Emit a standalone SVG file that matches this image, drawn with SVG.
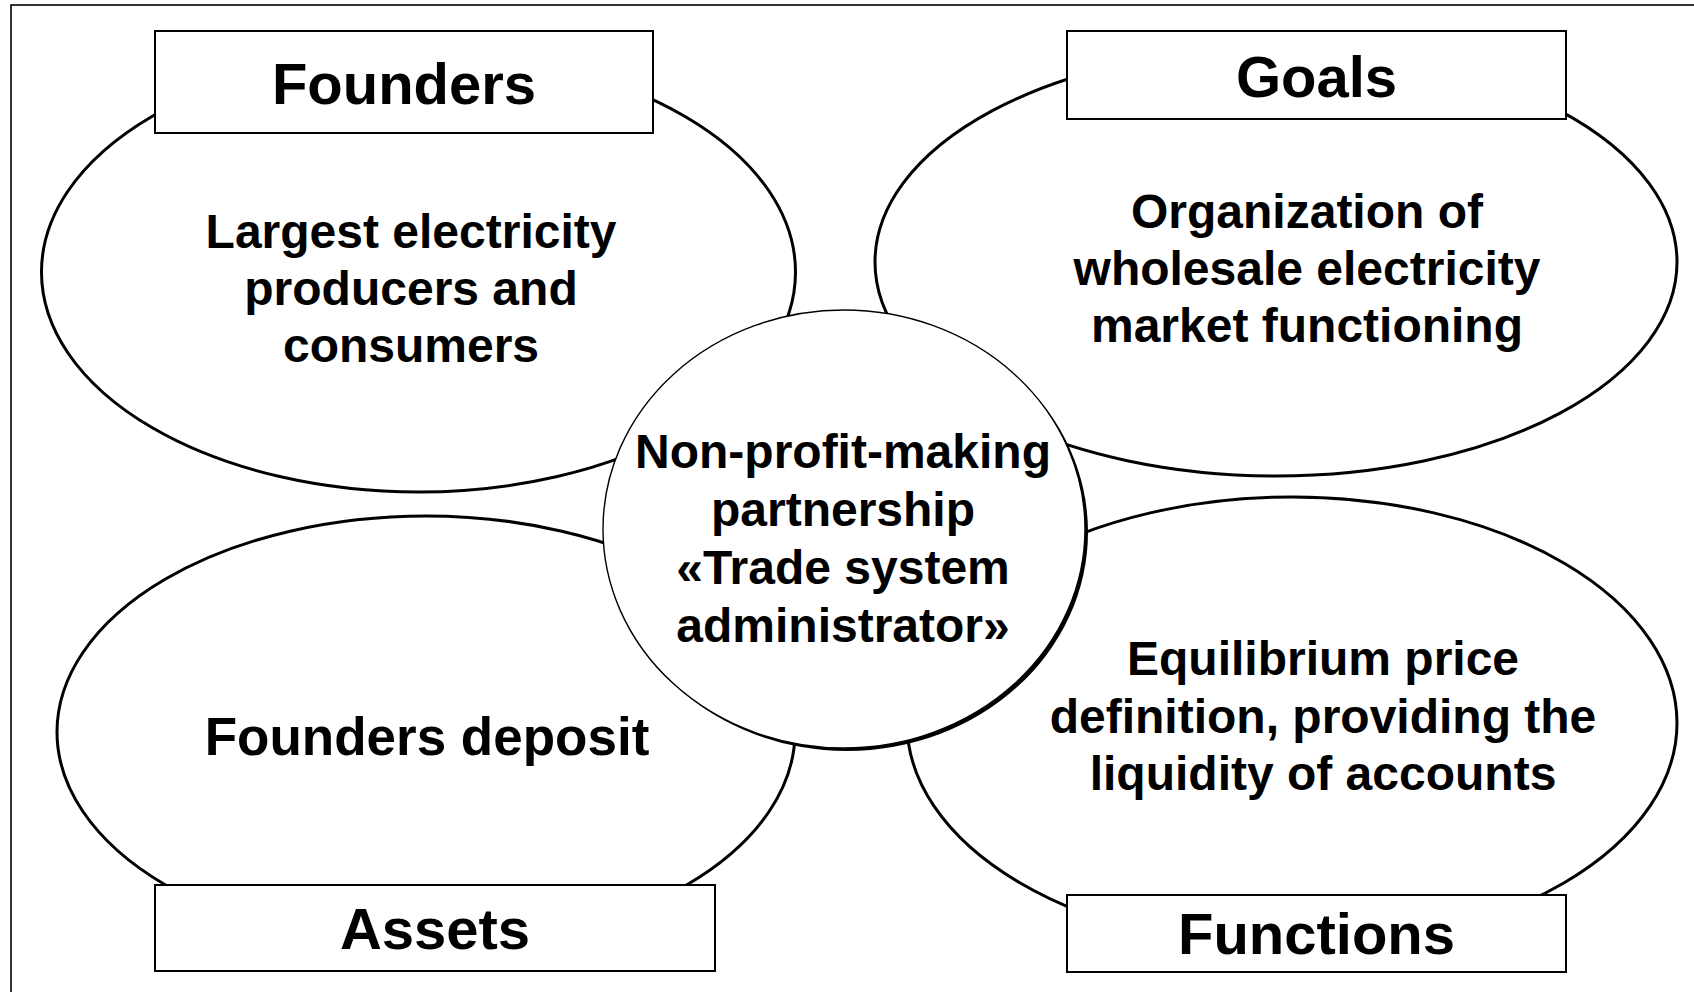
<svg xmlns="http://www.w3.org/2000/svg" width="1694" height="992" viewBox="0 0 1694 992">
<style>
.ell{fill:#fff;stroke:#000;stroke-width:3}
.box{fill:#fff;stroke:#000;stroke-width:2}
.t{font-family:"Liberation Sans",Arial,sans-serif;font-weight:bold;fill:#000;text-anchor:middle}
.title{font-size:58px}
.body{font-size:48px}
.big{font-size:53px}
</style>
<rect x="11" y="5" width="1700" height="1000" fill="#fff" stroke="#000" stroke-width="1.6"/>
<g id="founders">
<ellipse class="ell" cx="418.5" cy="272" rx="377" ry="220"/>
<rect class="box" x="155" y="31" width="498" height="102"/>
<text class="t title" x="404" y="104">Founders</text>
<text class="t body" x="411" y="248">Largest electricity</text>
<text class="t body" x="411" y="305">producers and</text>
<text class="t body" x="411" y="362">consumers</text>
</g>
<g id="goals">
<ellipse class="ell" cx="1276" cy="262" rx="401" ry="214"/>
<rect class="box" x="1067" y="31" width="499" height="88"/>
<text class="t title" x="1316.5" y="97">Goals</text>
<text class="t body" x="1307" y="228">Organization of</text>
<text class="t body" x="1307" y="285">wholesale electricity</text>
<text class="t body" x="1307" y="342">market functioning</text>
</g>
<g id="assets">
<ellipse class="ell" cx="426" cy="732" rx="369" ry="216"/>
<rect class="box" x="155" y="885" width="560" height="86"/>
<text class="t title" x="435" y="949">Assets</text>
<text class="t big" x="427" y="755">Founders deposit</text>
</g>
<g id="functions">
<ellipse class="ell" cx="1292" cy="723" rx="385" ry="226"/>
<rect class="box" x="1067" y="895" width="499" height="77"/>
<text class="t title" x="1316.5" y="954">Functions</text>
<text class="t body" x="1323" y="675">Equilibrium price</text>
<text class="t body" x="1323" y="733">definition, providing the</text>
<text class="t body" x="1323" y="790">liquidity of accounts</text>
</g>
<g id="center">
<ellipse cx="847" cy="532" rx="241" ry="219" fill="#000"/>
<ellipse cx="844" cy="529" rx="241" ry="219" fill="#fff" stroke="#000" stroke-width="1.4"/>
<text class="t body" x="843" y="468">Non-profit-making</text>
<text class="t body" x="843" y="526">partnership</text>
<text class="t body" x="843" y="584">«Trade system</text>
<text class="t body" x="843" y="642">administrator»</text>
</g>
<g id="connectors"/>
</svg>
